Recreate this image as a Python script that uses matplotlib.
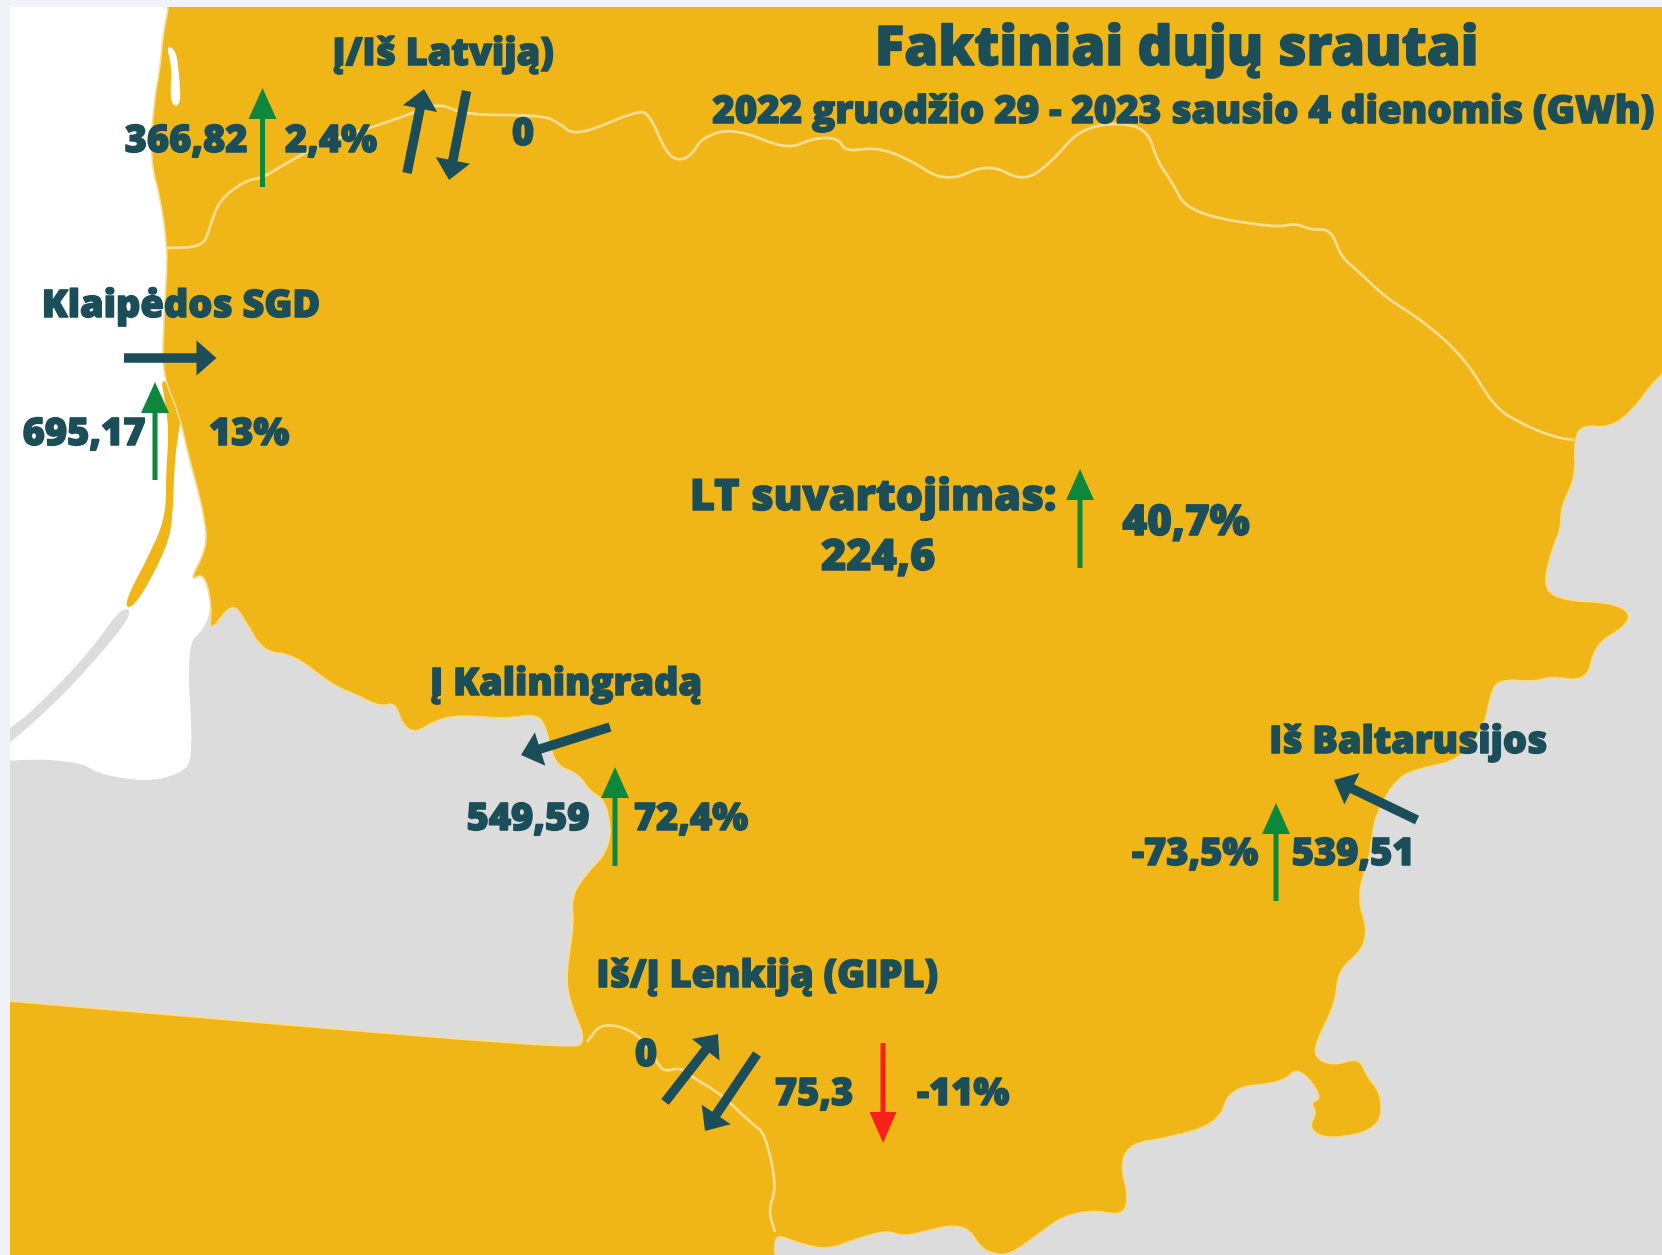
"""
Faktiniai duju srautai - schema ant Lietuvos zemelapio
"""
import numpy as np
import matplotlib
matplotlib.use("Agg")
import matplotlib.pyplot as plt
import matplotlib.patheffects as pe
from matplotlib.patches import PathPatch, Rectangle
from matplotlib.path import Path

# Duomenys
title = "Faktiniai dujų srautai"
subtitle = "2022 gruodžio 29 - 2023 sausio 4 dienomis (GWh)"
regions = ["Į/Iš Latviją)", "Klaipėdos SGD", "LT suvartojimas:", "Į Kaliningradą", "Iš Baltarusijos", "Iš/Į Lenkiją (GIPL)"]
flows = ["366,82", "0", "695,17", "224,6", "549,59", "539,51", "0", "75,3"]
changes = ["2,4%", "13%", "40,7%", "72,4%", "-73,5%", "-11%"]

# Zemelapio kontura (pikseliai nuo virsaus)
coast = [(169, 7), (163, 33), (160, 70), (154, 100), (150, 160), (161, 200), (167, 247), (167, 267), (163, 333),
         (163, 377), (179, 413), (187, 450), (196, 483), (205, 520), (207, 548), (189, 582), (204, 572), (212, 606),
         (209, 634)]
border_kaliningrad = [(232, 602), (245, 620), (263, 652), (293, 654), (332, 685), (357, 695), (380, 707), (395, 702),
                      (403, 726), (416, 733), (434, 721), (459, 715), (505, 719), (536, 714), (546, 726), (554, 765),
                      (579, 774), (589, 791), (607, 801), (612, 847), (582, 878), (571, 900), (574, 924), (566, 972),
                      (569, 1001), (587, 1042), (569, 1049)]
border_poland_west = [(10, 1001), (-100, 992), (-100, 1400), (777, 1400), (777, 1270)]
border_belarus = [(773, 1233), (797, 1243), (827, 1250), (853, 1240), (887, 1230), (903, 1237), (930, 1230), (953, 1225),
                  (970, 1230), (980, 1247), (993, 1254), (1010, 1255), (1040, 1233), (1063, 1216), (1095, 1210),
                  (1122, 1216), (1129, 1198), (1120, 1164), (1131, 1143), (1169, 1138), (1219, 1123), (1230, 1087),
                  (1283, 1083), (1298, 1066), (1323, 1097), (1310, 1103), (1317, 1112), (1308, 1129), (1329, 1140),
                  (1380, 1129), (1382, 1094), (1367, 1077), (1359, 1057), (1333, 1066), (1314, 1057), (1317, 1040),
                  (1336, 1002), (1338, 970), (1363, 950), (1367, 927), (1359, 904), (1361, 881), (1371, 852),
                  (1374, 817), (1397, 777), (1422, 768), (1460, 760), (1485, 725), (1490, 696), (1498, 679),
                  (1536, 682), (1549, 676), (1587, 682), (1595, 644), (1625, 627), (1631, 612), (1608, 602),
                  (1566, 601), (1542, 589), (1553, 546), (1561, 529), (1561, 506), (1576, 477), (1574, 440),
                  (1582, 425), (1608, 428), (1631, 413), (1662, 370), (1760, 300), (1760, -100), (172, -100),
                  (170, -30)]
sea = [(-100, -100), (300, -100), (230, 500), (212, 600), (206, 628), (186, 644), (194, 760), (179, 774), (148, 782),
       (97, 774), (82, 762), (15, 758), (-100, 775)]
spit_grey = [(122, 606), (134, 613), (92, 664), (51, 707), (10, 743), (-100, 830), (-100, 790), (10, 731), (51, 693),
             (92, 649)]
spit_yellow = [(160, 375), (185, 400), (178, 433), (174, 470), (173, 514), (168, 546), (135, 608), (122, 606),
               (153, 548), (166, 514), (166, 470), (169, 433), (165, 400)]
curonian_top = [(166, 45), (176, 50), (179, 73), (181, 103), (174, 107), (170, 97), (172, 67)]
border_latvia = [(167, 248), (203, 247), (210, 227), (219, 200), (246, 180), (263, 178), (286, 163), (330, 140),
                 (379, 125), (415, 112), (440, 103), (464, 115), (540, 115), (558, 122), (576, 137), (638, 110),
                 (650, 115), (666, 153), (679, 161), (692, 155), (702, 137), (735, 128), (787, 150), (813, 138),
                 (839, 138), (845, 152), (875, 147), (907, 158), (946, 183), (989, 163), (1023, 182), (1051, 163),
                 (1083, 125), (1145, 123), (1158, 163), (1171, 180), (1188, 213), (1276, 228), (1295, 223), (1311, 230),
                 (1331, 229), (1341, 257), (1357, 270), (1386, 298), (1422, 320), (1465, 358), (1494, 407), (1520, 423),
                 (1553, 437), (1574, 440)]
border_lt_pl = [(587, 1042), (602, 1022), (638, 1032), (657, 1063), (665, 1072), (680, 1067), (693, 1078), (720, 1093),
                (753, 1125), (765, 1133), (777, 1187), (768, 1210), (775, 1232)]

C_TEXT = "#1b4e59"
C_YELLOW = "#f0b618"
C_EDGE = "#f8dc90"
C_GREY = "#dcdcdc"
C_FRAME = "#eff3f7"
C_GREEN = "#0d873b"
C_RED = "#f8211a"


def kreive(taskai, uzdara=True):
    """Path su kvadratinem kreivem per tasku vidurius."""
    p = np.array(taskai, dtype=float)
    if uzdara:
        mid = (p + np.roll(p, -1, axis=0)) / 2
        verts = [mid[-1]]
        codes = [Path.MOVETO]
        for i in range(len(p)):
            verts += [p[i], mid[i]]
            codes += [Path.CURVE3, Path.CURVE3]
        verts.append(mid[-1])
        codes.append(Path.CLOSEPOLY)
    else:
        mid = (p[:-1] + p[1:]) / 2
        verts = [p[0], mid[0]]
        codes = [Path.MOVETO, Path.LINETO]
        for i in range(1, len(p) - 1):
            verts += [p[i], mid[i]]
            codes += [Path.CURVE3, Path.CURVE3]
        verts.append(p[-1])
        codes.append(Path.LINETO)
    return Path(verts, codes)


def rodykle(ax, nuo, iki, spalva, storis, galva_w, galva_l):
    ax.arrow(nuo[0], nuo[1], iki[0] - nuo[0], iki[1] - nuo[1], width=storis, head_width=galva_w,
             head_length=galva_l, length_includes_head=True, color=spalva, linewidth=0, zorder=6)


def uzrasas(ax, x, y, tekstas, dydis=27.3):
    t = ax.text(x, y, tekstas, ha="center", va="baseline", fontsize=dydis, fontweight="extra bold",
                color=C_TEXT, family="Open Sans", zorder=7)
    t.set_path_effects([pe.withStroke(linewidth=1.1, foreground=C_TEXT)])
    return t


def main():
    fig = plt.figure(figsize=(16.62, 12.55), dpi=100, facecolor=C_FRAME)
    ax = fig.add_axes([0, 0, 1, 1])
    ax.set_xlim(0, 1662)
    ax.set_ylim(1255, 0)
    ax.axis("off")

    ax.add_patch(Rectangle((0, 0), 1662, 1255, facecolor=C_GREY, edgecolor="none", zorder=0))
    ax.add_patch(PathPatch(kreive(sea), facecolor="white", edgecolor="none", zorder=1))
    ax.add_patch(PathPatch(kreive(spit_grey), facecolor=C_GREY, edgecolor="none", zorder=2))
    ax.add_patch(PathPatch(kreive(spit_yellow), facecolor=C_YELLOW, edgecolor="none", zorder=3))

    kontura = coast + border_kaliningrad + border_poland_west + border_belarus
    ax.add_patch(PathPatch(kreive(kontura), facecolor=C_YELLOW, edgecolor=C_EDGE, linewidth=1.2, zorder=3))
    ax.add_patch(PathPatch(kreive(curonian_top), facecolor="white", edgecolor="none", zorder=4))

    for linija in [border_latvia, border_lt_pl]:
        ax.add_patch(PathPatch(kreive(linija, uzdara=False), facecolor="none", edgecolor=C_EDGE,
                               linewidth=2.0, zorder=4))

    # Remelis virsuje ir kaireje
    ax.add_patch(Rectangle((0, 0), 1662, 7, facecolor=C_FRAME, edgecolor="none", zorder=5))
    ax.add_patch(Rectangle((0, 0), 10, 1255, facecolor=C_FRAME, edgecolor="none", zorder=5))

    # Rodykles
    for nuo, iki in [((262.5, 187), (262.5, 88)), ((155, 480), (155, 382)), ((1080, 568), (1080, 469)),
                     ((1276, 901), (1276, 803)), ((615, 866), (615, 767))]:
        rodykle(ax, nuo, iki, C_GREEN, 5, 28, 31)
    rodykle(ax, (883, 1043), (883, 1143), C_RED, 5, 27, 31)
    for nuo, iki in [((124, 358), (216.5, 358)), ((407, 173), (424, 89)), ((466.5, 91), (449, 180)),
                     ((610, 727), (521, 755)), ((1417, 820), (1334, 780)), ((665, 1102), (718, 1034)),
                     ((757, 1054), (705, 1131))]:
        rodykle(ax, nuo, iki, C_TEXT, 9.5, 35, 20)

    # Tekstai
    uzrasas(ax, 1177, 65, title, 39.3)
    uzrasas(ax, 1184, 123, subtitle, 27.6)

    reg_xy = [(443, 65), (181, 317), (873, 510), (566, 695), (1408, 753), (767, 987)]
    reg_size = [27.3, 27.3, 31, 27.3, 27.3, 27.3]
    for (x, y), tekstas, dydis in zip(reg_xy, regions, reg_size):
        uzrasas(ax, x, y, tekstas, dydis)

    flow_xy = [(186, 152), (523, 145), (84, 445), (878, 570), (528, 830), (1353, 865), (646, 1066), (814, 1105)]
    flow_size = [27.3, 27.3, 27.3, 31, 27.3, 27.3, 27.3, 27.3]
    for (x, y), tekstas, dydis in zip(flow_xy, flows, flow_size):
        uzrasas(ax, x, y, tekstas, dydis)

    change_xy = [(331, 152), (249, 445), (1186, 535), (691, 830), (1195, 865), (963, 1105)]
    change_size = [27.3, 27.3, 30.4, 27.3, 27.3, 27.3]
    for (x, y), tekstas, dydis in zip(change_xy, changes, change_size):
        uzrasas(ax, x, y, tekstas, dydis)

    plt.savefig("out.png", dpi=100, facecolor=C_FRAME)
    plt.close()


if __name__ == "__main__":
    main()
